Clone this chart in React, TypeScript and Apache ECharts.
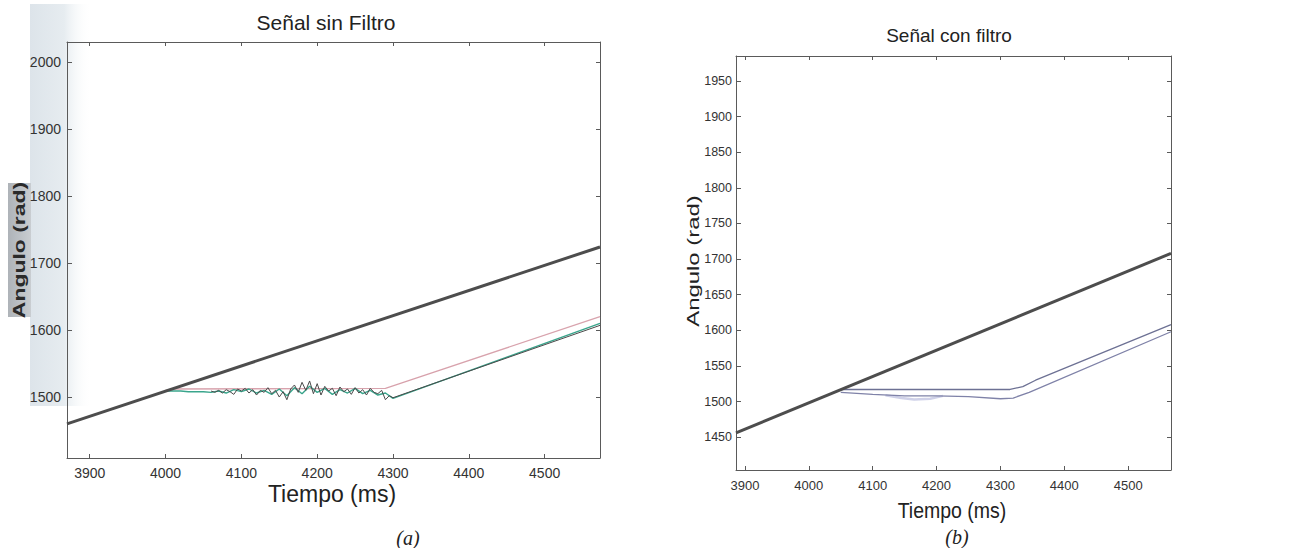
import React, { useEffect, useRef } from "react";
import * as echarts from "echarts";

// ---------- data: left panel "Señal sin Filtro" ----------
const leftXTicks = [3900, 4000, 4100, 4200, 4300, 4400, 4500];
const leftYTicks = [1500, 1600, 1700, 1800, 1900, 2000];
const leftRef: [number, number][] = [[3870, 1460], [4573, 1724]];
const leftPink: [number, number][] = [[4000, 1510], [4010, 1512], [4290, 1513], [4573, 1620]];
const leftGreen: [number, number][] = [
  [4000, 1509], [4010, 1509], [4020, 1509], [4030, 1508], [4040, 1508], [4050, 1508],
  [4060, 1507], [4070, 1509], [4080, 1506], [4090, 1511], [4100, 1508], [4110, 1512],
  [4120, 1506], [4130, 1510], [4140, 1504], [4150, 1512], [4160, 1502], [4170, 1514],
  [4180, 1505], [4190, 1516], [4200, 1507], [4210, 1513], [4220, 1504], [4230, 1511],
  [4240, 1506], [4250, 1513], [4260, 1505], [4270, 1510], [4280, 1503], [4290, 1506],
  [4300, 1498], [4573, 1610],
];
const leftDark: [number, number][] = [
  [4060, 1509], [4065, 1507], [4070, 1510], [4075, 1506], [4080, 1511], [4085, 1508],
  [4090, 1504], [4095, 1512], [4100, 1509], [4105, 1513], [4110, 1506], [4115, 1511],
  [4120, 1503], [4125, 1510], [4130, 1507], [4135, 1514], [4140, 1505], [4145, 1510],
  [4150, 1500], [4155, 1508], [4160, 1496], [4165, 1512], [4170, 1518], [4175, 1507],
  [4180, 1522], [4185, 1510], [4190, 1524], [4195, 1505], [4200, 1520], [4205, 1503],
  [4210, 1516], [4215, 1509], [4220, 1513], [4225, 1502], [4230, 1515], [4235, 1508],
  [4240, 1512], [4245, 1504], [4250, 1514], [4255, 1506], [4260, 1511], [4265, 1503],
  [4270, 1513], [4275, 1507], [4280, 1505], [4285, 1510], [4290, 1496], [4295, 1502],
  [4300, 1499], [4573, 1607],
];

// ---------- data: right panel "Señal con filtro" ----------
const rightXTicks = [3900, 4000, 4100, 4200, 4300, 4400, 4500];
const rightYTicks = [1450, 1500, 1550, 1600, 1650, 1700, 1750, 1800, 1850, 1900, 1950];
const rightRef: [number, number][] = [[3886, 1456], [4567, 1708]];
const rightUpper: [number, number][] = [
  [4050, 1517], [4315, 1517], [4335, 1521], [4355, 1530], [4567, 1608],
];
const rightLower: [number, number][] = [
  [4050, 1513], [4100, 1510], [4150, 1508], [4200, 1508], [4250, 1507],
  [4300, 1504], [4320, 1505], [4345, 1513], [4567, 1598],
];
const rightRipple: [number, number][] = [
  [4120, 1509], [4145, 1505], [4165, 1503], [4190, 1504], [4210, 1508],
];

const FONT = "'Liberation Sans', Arial, sans-serif";
const AXIS_COLOR = "#5a5a5a";

function xAxes(grid: number, min: number, max: number, ticks: number[], fs: number, margin: number) {
  const base = {
    type: "value" as const,
    gridIndex: grid,
    min,
    max,
    splitLine: { show: false },
    axisLine: { show: true, lineStyle: { color: AXIS_COLOR, width: 1 } },
  };
  return [
    {
      ...base,
      position: "bottom",
      axisTick: { show: true, inside: true, length: 4, customValues: ticks, lineStyle: { color: AXIS_COLOR } },
      axisLabel: {
        show: true,
        customValues: ticks,
        formatter: (v: number) => String(v),
        fontSize: fs,
        color: "#333",
        fontFamily: FONT,
        margin,
      },
    },
    {
      ...base,
      position: "top",
      axisTick: { show: true, inside: true, length: 4, customValues: ticks, lineStyle: { color: AXIS_COLOR } },
      axisLabel: { show: false },
    },
  ];
}

function yAxes(grid: number, min: number, max: number, ticks: number[], fs: number, margin: number) {
  const base = {
    type: "value" as const,
    gridIndex: grid,
    min,
    max,
    splitLine: { show: false },
    axisLine: { show: true, lineStyle: { color: AXIS_COLOR, width: 1 } },
  };
  return [
    {
      ...base,
      position: "left",
      axisTick: { show: true, inside: true, length: 5, customValues: ticks, lineStyle: { color: AXIS_COLOR } },
      axisLabel: {
        show: true,
        customValues: ticks,
        formatter: (v: number) => String(v),
        fontSize: fs,
        color: "#333",
        fontFamily: FONT,
        margin,
      },
    },
    {
      ...base,
      position: "right",
      axisTick: { show: true, inside: true, length: 4, customValues: ticks, lineStyle: { color: AXIS_COLOR } },
      axisLabel: { show: false },
    },
  ];
}

function line(data: [number, number][], xi: number, yi: number, color: string, width: number, z = 2, opacity = 1) {
  return {
    type: "line",
    xAxisIndex: xi,
    yAxisIndex: yi,
    data,
    symbol: "none",
    silent: true,
    z,
    lineStyle: { color, width, opacity },
  };
}

export default function App() {
  const ref = useRef<HTMLDivElement>(null);

  useEffect(() => {
    if (!ref.current) return;
    const chart = echarts.init(ref.current, null, { renderer: "svg" });
    const option = {
      animation: false,
      backgroundColor: "#ffffff",
      grid: [
        { left: 67, top: 42, width: 533, height: 416, containLabel: false },
        { left: 736, top: 56, width: 435, height: 414, containLabel: false },
      ],
      xAxis: [
        ...xAxes(0, 3870, 4573, leftXTicks, 14, 8),
        ...xAxes(1, 3886, 4567, rightXTicks, 13, 9),
      ],
      yAxis: [
        ...yAxes(0, 1409, 2030, leftYTicks, 14, 6),
        ...yAxes(1, 1404, 1985, rightYTicks, 12.5, 4),
      ],
      series: [
        line(leftPink, 0, 0, "#d8a3ad", 1.3, 3),
        line(leftGreen, 0, 0, "#3aa58c", 1.4, 4),
        line(leftDark, 0, 0, "#4a4a4a", 1, 5),
        line(leftRef, 0, 0, "#4d4d4d", 3, 6),
        line(rightRipple, 2, 2, "#c3c5e2", 2.5, 3, 0.8),
        line(rightUpper, 2, 2, "#6d7194", 1.3, 4),
        line(rightLower, 2, 2, "#7f82a8", 1.3, 4),
        line(rightRef, 2, 2, "#4d4d4d", 3, 6),
      ],
      graphic: [
        {
          type: "rect",
          z: -10,
          silent: true,
          shape: { x: 30, y: 4, width: 62, height: 402 },
          style: {
            fill: new echarts.graphic.LinearGradient(0, 0, 1, 0, [
              { offset: 0, color: "#dde4ea" },
              { offset: 0.55, color: "#e6ecf0" },
              { offset: 1, color: "rgba(255,255,255,0)" },
            ]),
          },
        },
        {
          type: "rect",
          z: -9,
          silent: true,
          shape: { x: 8, y: 183, width: 23, height: 134 },
          style: {
            fill: new echarts.graphic.LinearGradient(0, 0, 1, 0, [
              { offset: 0, color: "#aeb3b8" },
              { offset: 1, color: "#c9cdd1" },
            ]),
          },
        },
        {
          type: "text",
          x: 326,
          y: 22,
          style: { text: "Señal sin Filtro", fontSize: 21, fontFamily: FONT, fill: "#222", align: "center", verticalAlign: "middle" },
        },
        {
          type: "text",
          x: 949,
          y: 35,
          style: { text: "Señal con filtro", fontSize: 19, fontFamily: FONT, fill: "#222", align: "center", verticalAlign: "middle" },
        },
        {
          type: "text",
          x: 332,
          y: 494,
          style: { text: "Tiempo (ms)", fontSize: 23, fontFamily: FONT, fill: "#222", align: "center", verticalAlign: "middle" },
        },
        {
          type: "text",
          x: 952,
          y: 510,
          scaleY: 1.15,
          style: { text: "Tiempo (ms)", fontSize: 19.5, fontFamily: FONT, fill: "#222", align: "center", verticalAlign: "middle" },
        },
        {
          type: "text",
          x: 19,
          y: 250,
          rotation: Math.PI / 2,
          scaleX: 1.35,
          style: { text: "Angulo (rad)", fontSize: 17, fontWeight: "bold", fontFamily: FONT, fill: "#2a2a2a", align: "center", verticalAlign: "middle" },
        },
        {
          type: "text",
          x: 693,
          y: 261,
          rotation: Math.PI / 2,
          scaleX: 1.45,
          style: { text: "Angulo (rad)", fontSize: 16.5, fontFamily: FONT, fill: "#222", align: "center", verticalAlign: "middle" },
        },
        {
          type: "text",
          x: 408,
          y: 538,
          style: { text: "(a)", fontSize: 20, fontStyle: "italic", fontFamily: "'Liberation Serif', 'Times New Roman', serif", fill: "#222", align: "center", verticalAlign: "middle" },
        },
        {
          type: "text",
          x: 957,
          y: 537,
          style: { text: "(b)", fontSize: 20, fontStyle: "italic", fontFamily: "'Liberation Serif', 'Times New Roman', serif", fill: "#222", align: "center", verticalAlign: "middle" },
        },
      ],
    };
    chart.setOption(option as any);
    return () => chart.dispose();
  }, []);

  return (
    <div
      ref={ref}
      style={{ position: "absolute", left: 0, top: 0, width: 1290, height: 548 }}
    />
  );
}
